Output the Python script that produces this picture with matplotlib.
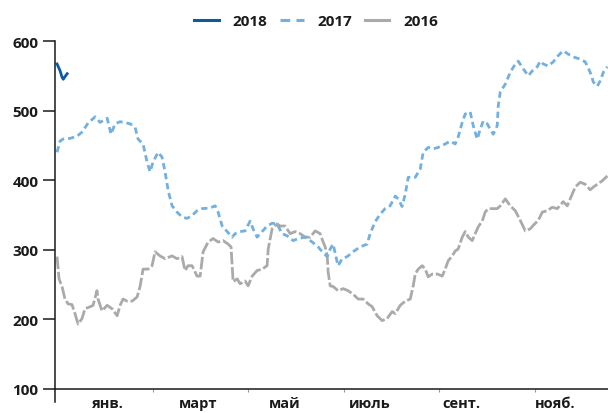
import matplotlib
matplotlib.use("Agg")
import matplotlib.pyplot as plt
from matplotlib.ticker import FixedLocator
from matplotlib.lines import Line2D

plt.rcParams['font.family'] = ['Open Sans', 'DejaVu Sans']
plt.rcParams['lines.scale_dashes'] = False

# ---- data (day of year, value) ----
days_2018 = [0, 2, 3.2, 4, 5.5, 6.5]
vals_2018 = [567, 557, 548, 545, 550, 553]

days_2017 = [0, 1.9, 3.8, 8.3, 12.8, 16.0, 19.9, 24.4, 27.6, 32.1, 34.6, 37.2, 40.4, 46.8, 50.0,
             51.9, 55.1, 57.7, 59.6, 61.5, 64.7, 67.3, 69.2, 71.2, 73.7, 76.9, 80.1, 83.3, 86.5,
             89.7, 92.9, 98.1, 101.3, 103.2, 105.8, 109.0, 112.2, 114.1, 117.3, 120.5, 123.7,
             125.6, 128.2, 131.4, 134.6, 137.8, 141.0, 144.2, 147.4, 151.3, 154.5, 159.0, 163.5,
             167.3, 169.9, 173.1, 175.0, 176.9, 179.5, 180.1, 182.7, 185.9, 189.7, 194.2, 198.7,
             200.6, 203.8, 207.0, 210.2, 213.4, 216.7, 218.6, 221.1, 223.1, 225.0, 229.5, 232.7,
             234.6, 237.8, 241.0, 244.2, 248.7, 251.9, 255.1, 257.0, 259.6, 261.5, 264.7, 266.7,
             269.2, 271.1, 273.1, 275.6, 277.6, 279.5, 282.0, 282.7, 284.0, 287.2, 290.4, 293.6,
             295.5, 298.7, 301.9, 304.5, 307.7, 309.6, 311.5, 314.7, 317.9, 321.1, 324.3, 327.6,
             330.8, 335.2, 338.4, 341.6, 343.6, 346.1, 348.1, 350.0, 352.6]
vals_2017 = [440, 456, 459, 460, 463, 469, 482, 491, 483, 489, 466, 481, 484, 481, 476,
             459, 452, 426, 412, 426, 440, 433, 412, 385, 363, 354, 347, 345, 349,
             356, 359, 360, 363, 354, 334, 326, 318, 323, 326, 327, 341,
             330, 318, 326, 334, 338, 337, 323, 320, 313, 316, 318, 311,
             304, 297, 290, 301, 308, 282, 277, 287, 290, 297, 304, 308,
             323, 340, 351, 359, 363, 377, 373, 362, 380, 404, 404, 416,
             440, 447, 445, 447, 452, 456, 452, 462, 483, 495, 498, 478,
             459, 473, 485, 481, 473, 466, 478, 507, 527, 538, 555, 567,
             571, 560, 550, 557, 563, 571, 567, 564, 570, 579, 586, 581,
             577, 574, 570, 555, 541, 535, 543, 555, 563]

days_2016 = [0, 1.3, 3.2, 5.1, 7.1, 9.6, 11.5, 13.5, 16.0, 17.9, 21.2, 23.1, 25.6, 26.3, 28.8,
             32.1, 35.3, 38.5, 40.4, 42.3, 44.9, 48.1, 51.3, 53.2, 55.1, 58.3, 60.9, 62.8, 66.0,
             69.2, 73.7, 76.9, 80.1, 82.0, 84.0, 86.5, 89.7, 91.7, 93.6, 96.8, 100.0, 103.2,
             106.4, 109.6, 111.5, 112.2, 112.8, 115.4, 117.3, 120.5, 122.4, 125.0, 128.2, 131.4,
             134.6, 135.3, 137.8, 141.0, 142.9, 146.1, 149.4, 152.6, 155.8, 159.0, 162.2, 165.4,
             168.6, 170.5, 171.8, 173.1, 173.7, 175.0, 176.9, 180.1, 183.3, 186.5, 189.7, 192.9,
             196.1, 199.4, 201.9, 205.1, 208.3, 211.5, 214.7, 216.7, 219.9, 223.1, 226.3, 228.2,
             229.5, 231.4, 234.0, 235.9, 237.8, 240.4, 243.6, 246.8, 248.7, 250.6, 253.2, 255.1,
             257.0, 259.6, 261.5, 263.5, 266.0, 267.9, 269.9, 272.4, 274.3, 276.3, 279.5, 282.0,
             284.0, 287.2, 290.4, 293.6, 296.8, 300.0, 303.2, 305.1, 308.3, 310.9, 314.1, 317.3,
             320.5, 324.3, 326.9, 328.8, 332.0, 335.2, 338.4, 341.6, 343.6, 346.1, 349.3, 352.6]
vals_2016 = [290, 258, 247, 229, 222, 221, 208, 193, 201, 215, 218, 220, 241, 229, 212,
             220, 215, 205, 220, 229, 226, 226, 232, 247, 272, 272, 277, 297, 291,
             287, 291, 287, 290, 270, 277, 277, 262, 262, 297, 311, 316, 311,
             313, 308, 304, 277, 254, 258, 251, 255, 248, 262, 270, 272,
             277, 301, 330, 337, 334, 334, 323, 326, 323, 318, 318, 327,
             323, 311, 304, 291, 268, 248, 247, 241, 244, 241, 236, 229,
             229, 222, 218, 205, 198, 201, 211, 208, 220, 226, 229, 248,
             265, 272, 277, 272, 261, 265, 265, 262, 272, 284, 291, 298,
             301, 318, 326, 318, 313, 323, 333, 341, 354, 359, 359, 359,
             363, 373, 363, 356, 342, 327, 330, 335, 342, 354, 356, 361,
             359, 369, 363, 373, 390, 397, 394, 386, 390, 394, 399, 406]

month_ticks = [61.5, 122.5, 184, 245, 306.5]
label_pos = [32.7, 90.4, 146, 200.6, 259, 319]
month_labels = ['янв.', 'март', 'май', 'июль', 'сент.', 'нояб.']
y_ticks = [100, 200, 300, 400, 500, 600]

c18, c17, c16 = '#0b5aa5', '#72b0e0', '#aaaaaa'

# ---- figure ----
W, H = 608, 414
fig = plt.figure(figsize=(W / 100, H / 100), dpi=100)
ax = fig.add_axes([55 / W, 1 - 403 / H, (608 - 55) / W, (403 - 42) / H])

text_c = '#1a1a1a'
ax.plot(days_2016, vals_2016, color=c16, lw=2.0, dashes=(9, 2), dash_joinstyle='round')
ax.plot(days_2017, vals_2017, color=c17, lw=2.0, dashes=(4.5, 2.8), dash_joinstyle='round')
ax.plot(days_2018, vals_2018, color=c18, lw=2.0, solid_joinstyle='round')

ax.set_xlim(-1.3, 353)
ax.set_ylim(81, 600)

for s in ['top', 'right']:
    ax.spines[s].set_visible(False)
ax.spines['left'].set_linewidth(1.1)
ax.spines['bottom'].set_position(('data', 100))
ax.spines['bottom'].set_linewidth(1.1)
ax.spines['left'].set_color(text_c)
ax.spines['bottom'].set_color(text_c)

ax.set_yticks(y_ticks)
ax.tick_params(axis='y', length=9, width=1.1, color=text_c, pad=3,
               labelsize=11, labelcolor=text_c)
for t in ax.get_yticklabels():
    t.set_fontweight('bold')

ax.set_xticks(label_pos)
ax.set_xticklabels(month_labels, fontweight='bold')
ax.tick_params(axis='x', which='major', length=0, pad=5, labelsize=10.5, labelcolor=text_c)
ax.xaxis.set_minor_locator(FixedLocator(month_ticks))
ax.tick_params(axis='x', which='minor', length=2, width=0.8, color='#999999')

handles = [Line2D([], [], color=c18, lw=2.2),
           Line2D([], [], color=c17, lw=2.2, dashes=(7, 4.5)),
           Line2D([], [], color=c16, lw=2.2)]
leg = fig.legend(handles=handles, labels=['2018', '2017', '2016'],
                 loc='center', bbox_to_anchor=(0.52, 1 - 22 / H), ncol=3, frameon=False,
                 prop={'weight': 'bold', 'size': 11}, handlelength=1.6,
                 handletextpad=0.9, columnspacing=0.8)
for t in leg.get_texts():
    t.set_color(text_c)

fig.savefig('out.png', dpi=100)
